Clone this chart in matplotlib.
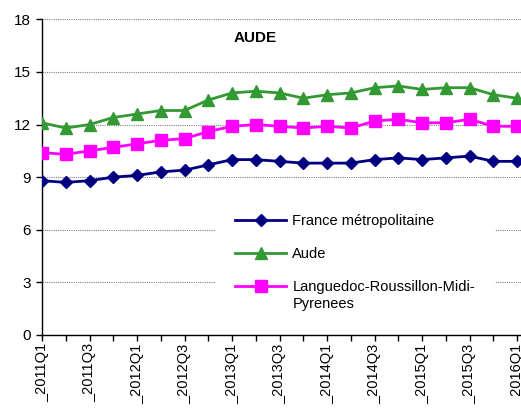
import matplotlib
matplotlib.use("Agg")
import matplotlib.pyplot as plt
import numpy as np

plt.rcParams["font.family"] = ["Liberation Sans", "DejaVu Sans"]

## Data

quarters = ["2011Q1", "2011Q2", "2011Q3", "2011Q4",
            "2012Q1", "2012Q2", "2012Q3", "2012Q4",
            "2013Q1", "2013Q2", "2013Q3", "2013Q4",
            "2014Q1", "2014Q2", "2014Q3", "2014Q4",
            "2015Q1", "2015Q2", "2015Q3", "2015Q4",
            "2016Q1"]

france = [8.8, 8.7, 8.8, 9.0, 9.1, 9.3, 9.4, 9.7, 10.0, 10.0, 9.9,
          9.8, 9.8, 9.8, 10.0, 10.1, 10.0, 10.1, 10.2, 9.9, 9.9]
aude = [12.1, 11.8, 12.0, 12.4, 12.6, 12.8, 12.8, 13.4, 13.8, 13.9, 13.8,
        13.5, 13.7, 13.8, 14.1, 14.2, 14.0, 14.1, 14.1, 13.7, 13.5]
lrmp = [10.4, 10.3, 10.5, 10.7, 10.9, 11.1, 11.2, 11.6, 11.9, 12.0, 11.9,
        11.8, 11.9, 11.8, 12.2, 12.3, 12.1, 12.1, 12.3, 11.9, 11.9]

series_names = ["France métropolitaine", "Aude", "Languedoc-Roussillon-Midi-", "Pyrenees"]

## Plot

W, H = 521, 412
fig = plt.figure(figsize=(W / 100, H / 100), dpi=100)
ax = fig.add_axes([42 / W, 1 - 335 / H, 1 - 42 / W, (335 - 19.3) / H])

x = np.arange(len(quarters))
ax.plot(x, france, color="#000080", lw=2, marker="D", ms=6, label=series_names[0], zorder=3)
ax.plot(x, aude, color="#339933", lw=2, marker="^", ms=8, label=series_names[1], zorder=3)
ax.plot(x, lrmp, color="#ff00ff", lw=2, marker="s", ms=8, label=series_names[2], zorder=3)

ax.set_xlim(0, 20.16)
ax.set_ylim(0, 18)
ax.set_yticks(np.arange(0, 19, 3))
ax.yaxis.grid(True, linestyle=(0, (1, 1)), color="#808080", lw=0.8)
ax.set_axisbelow(True)

ax.set_xticks(x)
ax.set_xticklabels(["_" + q if i % 2 == 0 else "" for i, q in enumerate(quarters)],
                   rotation=90, fontsize=10.5)
ax.tick_params(axis="x", length=4, width=1, pad=2)
ax.tick_params(axis="y", length=4, width=1, labelsize=11, pad=4)

for side in ["top", "right"]:
    ax.spines[side].set_visible(False)
for side in ["left", "bottom"]:
    ax.spines[side].set_color("black")
    ax.spines[side].set_linewidth(1)

fig.text(255 / W, 1 - 38 / H, "AUDE", fontsize=11, fontweight="bold",
         ha="center", va="center")

leg = ax.legend(loc="upper left", bbox_to_anchor=(215 / W, 1 - 194 / H),
                bbox_transform=fig.transFigure, frameon=True, borderaxespad=0,
                fontsize=10.5, handlelength=3.5, labelspacing=1.3,
                borderpad=1.4, handletextpad=0.4)
leg.get_frame().set_edgecolor("none")
leg.get_frame().set_facecolor("white")
leg.get_frame().set_alpha(1)
leg.get_frame().set_boxstyle("square", pad=0)
leg.set_zorder(5)

# second line of the last legend label, set under the first line
fig.canvas.draw()
bb = leg.get_texts()[2].get_window_extent()
fig.text(bb.x0 / W, (bb.y0 - 17) / H, series_names[3], fontsize=10.5,
         ha="left", va="bottom", zorder=6)

plt.savefig("out.png", dpi=100)
